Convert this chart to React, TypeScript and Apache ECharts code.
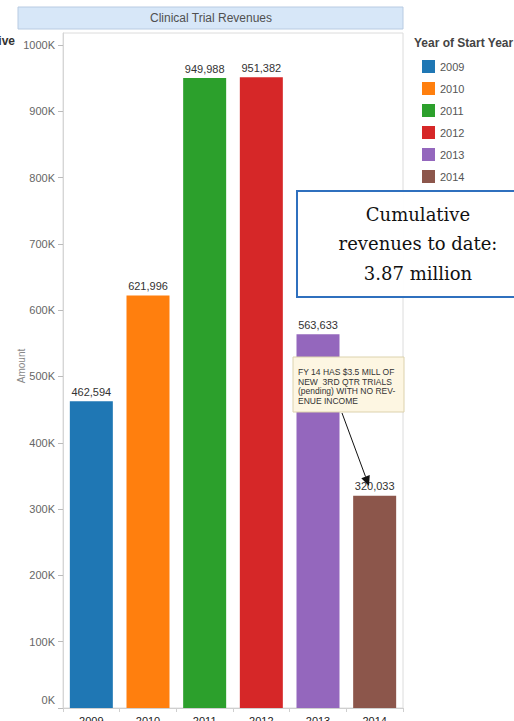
import React, { useEffect, useRef } from "react";
import * as echarts from "echarts";

const years = ["2009", "2010", "2011", "2012", "2013", "2014"];
const revenues = [462594, 621996, 949988, 951382, 563633, 320033];
const colors = ["#1f77b4", "#ff7f0e", "#2ca02c", "#d62728", "#9467bd", "#8c564b"];
const tickValues = [0, 100000, 200000, 300000, 400000, 500000, 600000, 700000, 800000, 900000, 1000000];
const chartTitle = "Clinical Trial Revenues";
const legendTitle = "Year of Start Year";
const yAxisTitle = "Amount";
const boxLines = ["Cumulative", "revenues to date:", "3.87 million"];
const noteLines = ["FY 14 HAS $3.5 MILL OF", "NEW  3RD QTR TRIALS", "(pending) WITH NO REV-", "ENUE INCOME"];

const FONT = "'Liberation Sans', Arial, sans-serif";

export default function App() {
  const ref = useRef<HTMLDivElement>(null);
  useEffect(() => {
    if (!ref.current) return;
    const chart = echarts.init(ref.current, null, { renderer: "svg" });

    const series = years.map((y, i) => ({
      name: y,
      type: "bar",
      barWidth: 43,
      barGap: "-100%",
      itemStyle: { color: colors[i] },
      label: {
        show: true,
        position: "top",
        distance: 4,
        color: "#333",
        fontSize: 11,
        fontFamily: FONT,
        formatter: (p: any) => Number(p.value).toLocaleString("en-US"),
      },
      data: years.map((_, j) => (j === i ? revenues[i] : "-")),
    }));

    // arrow geometry
    const ax0 = 342, ay0 = 413, ax1 = 369, ay1 = 486;
    const dx = ax1 - ax0, dy = ay1 - ay0;
    const len = Math.sqrt(dx * dx + dy * dy);
    const ux = dx / len, uy = dy / len;
    const hl = 10, hw = 4.5;
    const bx = ax1 - ux * hl, by = ay1 - uy * hl;
    const px = -uy * hw, py = ux * hw;

    chart.setOption({
      animation: false,
      backgroundColor: "#ffffff",
      textStyle: { fontFamily: FONT },
      grid: { left: 63, right: 111, top: 33, bottom: 13, show: true, borderColor: "#dcdcdc", borderWidth: 1, outerBoundsMode: "none" },
      legend: {
        orient: "vertical",
        left: 417,
        top: 55,
        itemWidth: 13,
        itemHeight: 13,
        itemGap: 9,
        icon: "rect",
        textStyle: { color: "#555", fontSize: 11, fontFamily: FONT },
        data: years,
      },
      xAxis: {
        type: "category",
        data: years,
        axisLine: { show: true, lineStyle: { color: "#cfcfcf" } },
        axisTick: { show: true, length: 4, lineStyle: { color: "#cfcfcf" } },
        axisLabel: { color: "#222", fontSize: 11, margin: 7, fontFamily: FONT },
      },
      yAxis: {
        type: "value",
        min: 0,
        max: 1018000,
        interval: 100000,
        splitLine: { show: false },
        axisLine: { show: true, lineStyle: { color: "#d6d6d6" } },
        axisTick: { show: true, length: 5, lineStyle: { color: "#bbb" }, customValues: tickValues },
        axisLabel: {
          color: "#666",
          fontSize: 11,
          margin: 8,
          fontFamily: FONT,
          customValues: tickValues,
          formatter: (v: number) => (v === 0 ? "{zero|0K}" : v / 1000 + "K"),
          rich: { zero: { color: "#666", fontSize: 11, fontFamily: FONT, padding: [0, 0, 16, 0] } },
        },
      },
      series,
      graphic: [
        {
          type: "rect",
          shape: { x: 18, y: 7, width: 385, height: 22 },
          style: { fill: "#d7e7f8", stroke: "#b8cbe2", lineWidth: 1 },
        },
        {
          type: "text",
          x: 211,
          y: 18,
          style: { text: chartTitle, fill: "#505050", fontSize: 12, fontFamily: FONT, align: "center", verticalAlign: "middle" },
        },
        {
          type: "text",
          x: 15,
          y: 41,
          style: { text: "ive", fill: "#333", fontSize: 12, fontWeight: "bold", fontFamily: FONT, align: "right", verticalAlign: "middle" },
        },
        {
          type: "text",
          x: 414,
          y: 43,
          style: { text: legendTitle, fill: "#444", fontSize: 12, fontWeight: "bold", fontFamily: FONT, align: "left", verticalAlign: "middle" },
        },
        {
          type: "text",
          x: 21,
          y: 366,
          rotation: Math.PI / 2,
          style: { text: yAxisTitle, fill: "#888", fontSize: 10, fontFamily: FONT, align: "center", verticalAlign: "middle" },
        },
        {
          type: "rect",
          shape: { x: 297, y: 191, width: 240, height: 106 },
          style: { fill: "rgba(255,255,255,0.95)", stroke: "#2f70be", lineWidth: 2 },
          z: 100,
        },
        ...boxLines.map((t, i) => ({
          type: "text",
          x: 418,
          y: 214 + i * 29.5,
          z: 101,
          style: { text: t, fill: "#111", fontSize: 18, fontFamily: "'DejaVu Serif', serif", align: "center", verticalAlign: "middle" },
        })),
        {
          type: "rect",
          shape: { x: 293, y: 357, width: 111, height: 55 },
          style: { fill: "#fdf6e2", stroke: "#dcd2ad", lineWidth: 1 },
          z: 100,
        },
        ...noteLines.map((t, i) => ({
          type: "text",
          x: 298,
          y: 372 + i * 9.7,
          z: 101,
          style: { text: t, fill: "#333", fontSize: 8.5, fontFamily: FONT, align: "left", verticalAlign: "middle" },
        })),
        {
          type: "line",
          shape: { x1: ax0, y1: ay0, x2: bx, y2: by },
          style: { stroke: "#111", lineWidth: 1 },
          z: 102,
        },
        {
          type: "polygon",
          shape: { points: [[ax1, ay1], [bx + px, by + py], [bx - px, by - py]] },
          style: { fill: "#111" },
          z: 102,
        },
      ],
    });
    return () => chart.dispose();
  }, []);
  return <div ref={ref} style={{ position: "fixed", left: 0, top: 0, width: 514, height: 721 }} />;
}
